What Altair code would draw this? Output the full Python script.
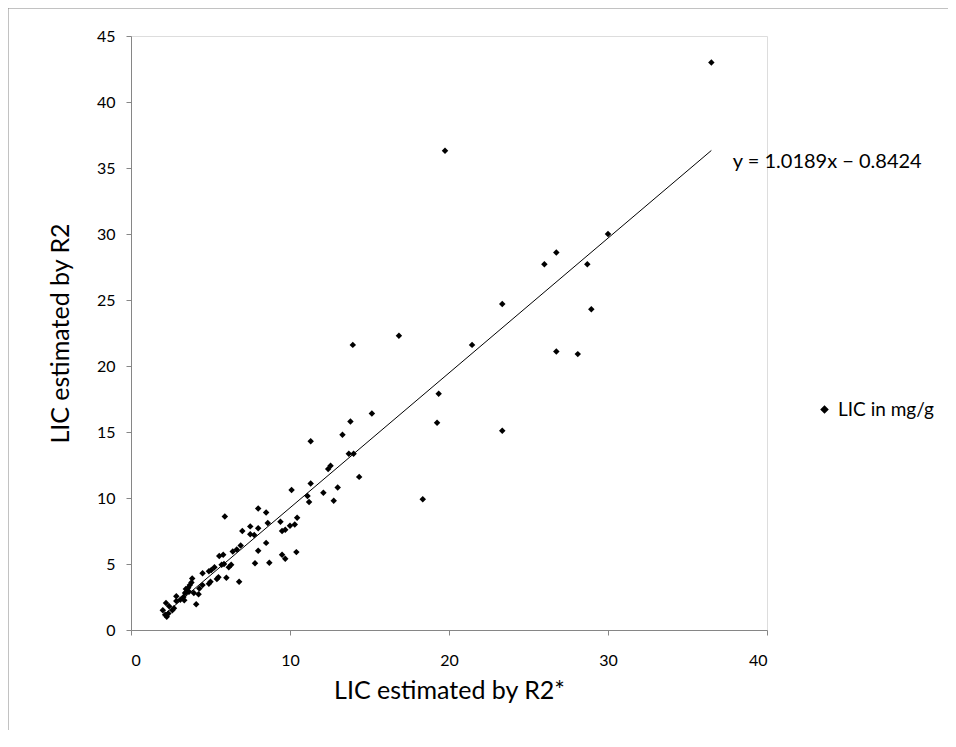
import altair as alt
import pandas as pd

# LIC estimated by R2* (x) and by R2 (y)
r2star = [36.5, 19.75, 30.0, 26.75, 26.0, 28.7, 23.35, 28.95, 21.45, 26.75, 28.1,
          16.85, 13.95, 19.35, 19.25, 23.35, 15.15, 13.8, 13.3, 11.3, 13.7, 14.0,
          12.4, 12.55, 14.35, 11.3, 12.1, 13.0, 11.1, 11.2, 12.75, 18.35, 10.1,
          10.45, 8.0, 8.5, 5.9, 8.6, 9.4, 10.0, 10.3, 9.5, 9.7, 7.0, 7.5, 8.0,
          7.5, 7.75, 6.9, 6.65, 6.4, 8.5, 8.0, 9.5, 9.7, 10.4, 5.8, 5.55, 7.8,
          8.7, 6.3, 6.15, 5.25, 5.7, 5.85, 4.5, 4.9, 5.05, 5.5, 6.0, 6.8, 5.4,
          4.9, 5.0, 4.3, 4.5, 3.85, 3.8, 3.7, 3.6, 3.45, 3.5, 3.4, 3.3, 3.1,
          3.65, 3.95, 4.25, 4.1, 2.85, 2.85, 2.7, 2.6, 2.4, 2.2, 2.0, 2.15,
          2.25, 2.35, 3.35]
r2 = [43.0, 36.3, 30.0, 28.6, 27.7, 27.7, 24.7, 24.3, 21.6, 21.1, 20.9,
      22.3, 21.6, 17.9, 15.7, 15.1, 16.4, 15.8, 14.8, 14.3, 13.35, 13.35,
      12.2, 12.45, 11.6, 11.1, 10.4, 10.8, 10.15, 9.7, 9.8, 9.9, 10.6,
      8.5, 9.2, 8.9, 8.6, 8.1, 8.2, 7.9, 8.0, 7.5, 7.6, 7.5, 7.85, 7.7,
      7.25, 7.2, 6.4, 6.1, 5.95, 6.6, 6.0, 5.7, 5.4, 5.9, 5.7, 5.6, 5.05,
      5.1, 4.95, 4.75, 4.75, 4.95, 5.0, 4.3, 4.45, 4.55, 4.0, 3.95, 3.65, 3.86,
      3.5, 3.65, 3.15, 3.4, 3.9, 3.6, 3.4, 3.2, 3.1, 2.9, 2.8, 2.5, 2.3,
      2.9, 2.8, 2.7, 1.95, 2.55, 2.2, 1.65, 1.5, 1.8, 2.05, 1.5, 1.15,
      1.0, 1.25, 2.25]
series_name = ["LIC in mg/g"]
eq_label = ["y = 1.0189x \u2212 0.8424"]
eq_pos_x = [37.85]
eq_pos_y = [35.45]
x_ticks = [0, 10, 20, 30, 40]
y_ticks = [0, 5, 10, 15, 20, 25, 30, 35, 40, 45]

df = pd.DataFrame({"x": r2star, "y": r2, "series": series_name * len(r2star)})
eq_df = pd.DataFrame({"x": eq_pos_x, "y": eq_pos_y, "label": eq_label})

FONT = "Lato"
GRAY = "#868686"

xscale = alt.Scale(domain=[0, 40], nice=False, zero=True)
yscale = alt.Scale(domain=[0, 45], nice=False, zero=True)

xaxis = alt.Axis(values=x_ticks, grid=False, domain=True, domainColor=GRAY,
                 tickColor=GRAY, tickSize=5, labelFontSize=16, labelFont=FONT,
                 labelColor="black", labelPadding=17, title="LIC estimated by R2*",
                 titleFont=FONT, titleFontSize=25, titleFontWeight="normal",
                 titleColor="black", titlePadding=10)
yaxis = alt.Axis(values=y_ticks, grid=False, domain=True, domainColor=GRAY,
                 tickColor=GRAY, tickSize=5, labelFontSize=16, labelFont=FONT,
                 labelColor="black", labelPadding=11, title="LIC estimated by R2",
                 titleFont=FONT, titleFontSize=25, titleFontWeight="normal",
                 titleColor="black", titlePadding=23)

base = alt.Chart(df)

points = base.mark_point(shape="diamond", filled=True, size=42, opacity=1).encode(
    x=alt.X("x:Q", scale=xscale, axis=xaxis),
    y=alt.Y("y:Q", scale=yscale, axis=yaxis),
    color=alt.Color("series:N", scale=alt.Scale(range=["black"]),
                    legend=alt.Legend(title=None, orient="none", legendX=684,
                                      legendY=364, symbolType="diamond",
                                      symbolSize=42, labelFontSize=19,
                                      labelFont=FONT, labelColor="black",
                                      labelOffset=4,
                                      symbolFillColor="black",
                                      symbolStrokeColor="black")),
)

trend = base.transform_regression("x", "y", method="linear").mark_line(
    color="black", strokeWidth=1
).encode(x=alt.X("x:Q", scale=xscale), y=alt.Y("y:Q", scale=yscale))

eq = alt.Chart(eq_df).mark_text(align="left", baseline="middle", fontSize=20,
                                font=FONT, color="black").encode(
    x=alt.X("x:Q", scale=xscale), y=alt.Y("y:Q", scale=yscale), text="label:N")

border = alt.Chart(eq_df).mark_rect(fill=None, stroke=GRAY, strokeWidth=1).encode(
    x=alt.value(-123), x2=alt.value(900), y=alt.value(-28), y2=alt.value(800))

chart = alt.layer(border, trend, points, eq).properties(
    width=636, height=594,
    autosize=alt.AutoSizeParams(type="none"),
    padding={"left": 123, "top": 28, "right": 181, "bottom": 100},
).configure_view(stroke=None).configure(background="white")

chart.save("out.html", embed_options={"renderer": "svg", "actions": False})
